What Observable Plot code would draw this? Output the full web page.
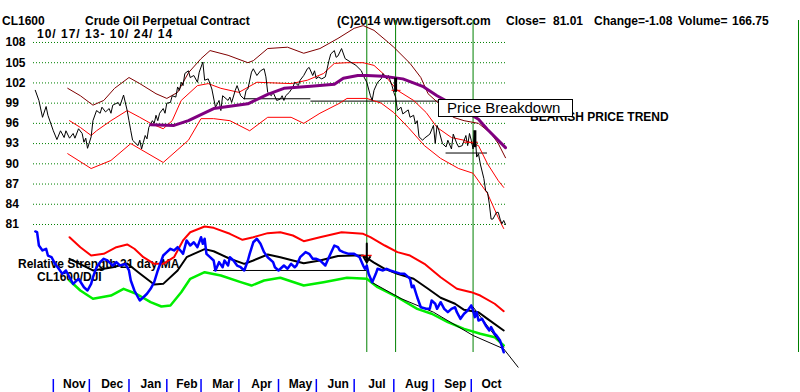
<!DOCTYPE html>
<html>
<head>
<meta charset="utf-8">
<script src="https://cdn.jsdelivr.net/npm/d3@7"></script>
<script src="https://cdn.jsdelivr.net/npm/@observablehq/plot@0.6"></script>
<style>
  html, body { margin: 0; padding: 0; background: #fff; }
  #wrap { position: relative; width: 800px; height: 392px; overflow: hidden; font-family: "Liberation Sans", Arial, sans-serif; }
  .t { position: absolute; font-size: 12px; line-height: 12px; font-weight: bold; color: #000; white-space: pre; }
  .layer { position: absolute; left: 0; top: 0; }
  #box { position: absolute; left: 438px; top: 99px; width: 135px; height: 18px; box-sizing: border-box; border: 1px solid #000; background: #fff;
         font-size: 15px; line-height: 15px; padding-left: 8px; white-space: pre; }
  #rb { position: absolute; left: 798px; top: 20px; width: 1px; height: 332px; background: #008000; }
</style>
</head>
<body>
<div id="wrap">
  <div class="t" style="left:2px;top:15px">CL1600</div>
  <div class="t" style="left:85px;top:15px">Crude Oil Perpetual Contract</div>
  <div class="t" style="left:337px;top:15px">(C)2014 www.tigersoft.com</div>
  <div class="t" style="left:506px;top:15px">Close=</div>
  <div class="t" style="left:553px;top:15px">81.01</div>
  <div class="t" style="left:594px;top:15px">Change=-1.08</div>
  <div class="t" style="left:678px;top:15px">Volume=</div>
  <div class="t" style="left:732px;top:15px">166.75</div>
  <div class="t" style="left:37px;top:28px;letter-spacing:1px">10/ 17/ 13- 10/ 24/ 14</div>
  <div class="t" style="left:530px;top:111px">BEARISH PRICE TREND</div>
  <div class="t" style="left:18px;top:258px">Relative Strength 21 day MA</div>
  <div class="t" style="left:37px;top:271px">CL1600/DJI</div>
  <div id="pricePlot" class="layer"></div>
  <div id="rsPlot" class="layer"></div>
  <div id="box">Price Breakdown</div>
  <div id="rb"></div>
</div>
<script>
// ---------- data (x = trading day since 10/17/13) ----------
const priceTicks = [108, 105, 102, 99, 96, 93, 90, 87, 84, 81];
const monthNames = ["Nov","Dec","Jan","Feb","Mar","Apr","May","Jun","Jul","Aug","Sep","Oct"];
const monthStartDay = [10, 30, 52, 73, 92, 113, 135, 156, 177, 199, 221, 242];
const lastDay = 261;
const signalDays = [184, 200, 243];

const closePrice = [[0,100.9],[2,99.4],[4,96.9],[6,98.5],[7,97.2],[10,94.9],[12,93.6],[14,94.9],[16,93.9],[17,94.9],[19,93.8],[21,94.5],[22,93.8],[24,95.2],[26,94.5],[27,93.2],[28,93.8],[29,92.3],[31,94.0],[32,96.4],[34,97.9],[36,97.5],[37,98.4],[39,97.7],[41,98.2],[42,97.5],[43,98.7],[46,99.1],[47,98.6],[49,100.2],[51,97.9],[52,96.4],[53,94.9],[54,93.5],[57,92.7],[58,93.5],[59,92.2],[60,93.2],[61,94.2],[62,93.7],[63,95.4],[65,96.4],[66,96.0],[67,97.2],[68,96.4],[69,97.5],[71,98.2],[72,97.5],[73,99.0],[75,99.1],[76,100.1],[78,99.9],[79,101.4],[80,100.9],[81,102.1],[82,101.6],[83,103.4],[85,103.8],[86,102.8],[88,103.1],[90,102.1],[91,103.6],[93,105.1],[94,102.4],[96,102.6],[98,101.1],[100,98.4],[102,99.4],[103,97.9],[104,100.1],[107,99.4],[108,99.9],[109,99.1],[111,100.9],[112,101.6],[114,100.1],[116,99.6],[117,100.9],[118,101.1],[120,103.6],[121,104.1],[123,103.1],[125,103.8],[127,104.1],[128,102.9],[129,100.6],[131,100.1],[132,100.6],[134,99.4],[136,99.6],[137,100.1],[138,99.4],[139,100.1],[141,100.6],[143,101.4],[144,102.1],[146,101.6],[147,102.4],[149,103.1],[151,104.1],[152,104.3],[154,103.1],[155,103.8],[156,102.6],[157,102.9],[159,102.6],[161,102.9],[162,104.1],[163,105.3],[164,106.3],[166,106.8],[167,105.8],[168,106.0],[170,107.1],[172,105.6],[175,105.1],[178,104.6],[181,103.8],[182,103.1],[184,102.1],[186,100.1],[187,99.4],[188,100.9],[190,102.1],[192,102.6],[193,103.4],[195,102.6],[196,103.1],[198,101.6],[199,100.6],[200,99.9],[201,97.9],[203,98.4],[204,97.4],[207,98.0],[208,96.9],[210,97.2],[211,95.9],[212,96.4],[213,94.0],[215,93.5],[216,93.8],[218,94.2],[219,94.4],[221,95.7],[222,93.0],[223,95.7],[224,95.0],[226,93.0],[228,92.5],[229,93.5],[231,92.2],[232,94.4],[234,93.0],[235,92.5],[237,92.7],[239,94.2],[240,92.7],[241,94.5],[242,93.5],[243,92.2],[244,94.9],[245,91.0],[246,91.5],[247,90.0],[249,87.8],[250,86.0],[251,85.8],[252,84.1],[253,81.8],[254,81.8],[256,82.8],[257,82.8],[258,81.8],[259,81.1],[260,81.6],[261,81.0]];

const upperBand = [[18,101.2],[25,100.1],[32,98.7],[38,99.4],[44,101.2],[52,102.8],[58,101.9],[67,100.4],[73,99.7],[79,100.6],[85,103.5],[92,105.6],[97,106.8],[107,106.1],[118,105.0],[121,105.3],[129,107.1],[140,107.3],[149,106.4],[158,107.1],[168,108.6],[177,110.1],[182,110.5],[188,109.8],[196,108.0],[199,107.3],[208,104.9],[214,102.8],[218,100.4],[225,98.7],[232,96.9],[238,96.4],[246,96.0],[253,94.5],[257,93.0],[261,90.9]];
const lowerBand = [[18,91.5],[31,89.3],[42,90.5],[53,93.0],[71,90.2],[85,93.5],[92,96.7],[99,96.7],[108,96.4],[119,94.9],[129,96.9],[142,96.9],[149,96.0],[158,97.5],[169,99.0],[173,99.7],[184,99.7],[192,99.0],[199,97.6],[207,95.4],[216,92.7],[225,90.8],[235,89.3],[243,88.6],[251,85.6],[257,82.0],[260,80.4]];
const ma21 = [[19,96.4],[25,95.4],[31,94.2],[34,94.9],[42,96.4],[51,97.9],[58,96.9],[64,96.0],[71,95.2],[76,96.4],[81,99.4],[90,101.6],[96,101.9],[103,101.2],[113,100.6],[123,102.1],[142,101.9],[151,102.4],[160,103.4],[166,104.9],[173,105.0],[182,105.0],[188,104.6],[193,103.4],[201,100.9],[210,99.4],[217,97.6],[223,95.4],[231,93.9],[238,93.5],[246,92.7],[251,90.0],[257,87.5],[260,86.5]];
const ma65 = [[64,95.8],[77,95.7],[85,96.4],[99,98.2],[118,98.9],[129,100.3],[138,101.2],[153,101.5],[166,101.8],[171,102.7],[179,103.1],[184,103.1],[193,103.0],[204,102.6],[215,101.5],[223,100.1],[236,98.2],[246,96.6],[251,95.1],[261,92.4]];
const supportLines = [{from:116, to:153, level:99.65}, {from:153, to:225, level:99.3}, {from:228, to:251, level:91.6}];
const signalBars = [{day:200, low:100.6, high:102.7}, {day:244, low:92.4, high:94.9}];
const signalMarks = [{from:198, to:203, level:100.9}, {from:238, to:246, level:93.2}];

// relative strength panel (arbitrary RS units)
const rsLine = [[0,93.1],[1,92.5],[2,82.3],[4,78.5],[6,79.8],[7,74.6],[9,73.3],[11,68.2],[13,64.4],[15,60.5],[17,63.1],[19,57.9],[21,52.8],[24,56.7],[27,50.2],[29,47.7],[31,52.8],[32,57.9],[34,65.6],[36,69.5],[38,72.1],[40,70.8],[42,68.2],[43,66.9],[45,69.5],[47,66.9],[50,68.2],[52,63.1],[53,55.4],[55,47.7],[57,42.5],[58,40.0],[60,42.5],[62,45.2],[64,49.0],[66,54.1],[68,63.1],[70,70.8],[71,74.6],[73,77.2],[75,79.8],[77,78.5],[79,81.0],[81,77.7],[82,75.9],[84,86.2],[86,82.3],[88,84.8],[90,81.0],[92,88.7],[93,83.6],[94,87.5],[95,75.9],[97,73.3],[99,70.8],[100,63.1],[102,69.5],[104,65.6],[105,70.8],[107,66.9],[108,73.3],[110,70.8],[112,66.9],[114,65.6],[116,63.1],[118,70.8],[119,75.9],[121,84.8],[123,87.5],[125,83.6],[127,77.2],[129,73.3],[132,69.5],[133,65.6],[135,63.1],[138,66.9],[140,64.4],[142,68.2],[144,65.6],[145,66.9],[147,73.3],[150,77.2],[152,75.9],[154,72.1],[156,72.1],[158,70.8],[161,66.9],[163,73.3],[166,82.3],[168,81.0],[169,78.5],[171,77.2],[174,75.9],[177,75.9],[180,73.3],[182,66.9],[183,64.4],[184,66.9],[185,60.5],[187,54.1],[189,60.5],[190,64.4],[193,63.1],[195,64.4],[197,63.1],[200,61.8],[203,60.5],[205,60.5],[208,56.7],[209,50.2],[210,51.5],[212,42.5],[214,34.8],[217,33.6],[219,33.6],[220,40.0],[222,37.5],[223,33.6],[225,38.7],[227,33.6],[229,31.0],[231,33.6],[233,34.8],[234,31.0],[236,25.9],[238,29.8],[240,32.3],[242,36.2],[243,32.3],[244,27.2],[245,31.0],[246,24.6],[248,25.9],[250,20.8],[252,16.9],[253,19.5],[255,14.4],[256,13.1],[258,9.2],[260,0.2]];
const rsMA = [[19,72.1],[32,63.1],[43,65.6],[51,68.5],[58,60.8],[66,52.3],[71,52.8],[79,63.1],[84,73.3],[88,75.9],[94,79.5],[99,77.9],[108,72.1],[116,68.2],[121,70.8],[129,75.4],[136,73.3],[143,70.8],[149,68.7],[158,70.8],[168,74.2],[177,74.6],[182,74.6],[188,69.2],[194,64.4],[201,60.5],[210,56.7],[218,49.0],[225,42.1],[233,37.5],[238,32.8],[246,31.0],[251,25.9],[260,16.9]];
const rsUpper = [[19,88.7],[25,81.0],[31,74.6],[38,75.9],[45,81.0],[51,83.1],[55,79.8],[60,73.3],[66,68.2],[71,68.2],[77,73.3],[82,86.2],[86,92.5],[94,96.9],[99,95.9],[108,91.3],[115,86.7],[121,88.7],[129,91.8],[136,92.5],[143,90.0],[149,85.6],[158,88.7],[170,92.5],[182,91.3],[186,88.7],[194,82.3],[201,77.2],[208,74.6],[216,68.2],[225,57.9],[234,49.0],[242,46.4],[247,43.8],[255,37.5],[260,31.8]];
const rsLower = [[19,55.4],[25,47.7],[32,41.3],[42,43.8],[49,49.0],[56,45.2],[64,38.7],[70,35.4],[75,36.2],[81,46.4],[86,56.7],[94,61.8],[103,59.2],[114,54.1],[120,51.5],[127,55.4],[136,57.5],[149,51.5],[160,54.1],[173,57.5],[184,56.7],[190,50.2],[201,42.5],[212,33.6],[220,29.8],[229,23.3],[238,18.2],[247,14.4],[255,11.8],[260,5.4]];
const rsSupport = [{from:99, to:184, level:63.1}];
const rsTrend = [[187,53.8],[203,41.5],[221,31.0],[243,13.1],[260,2.8],[268,-11.3]];
const rsTrendShort = [[243,35.0],[260,4.0]];
const rsArrow = [{day:184, top:83.8, bottom:69.2}];
const rsMark = [{from:181, to:187, level:74.6}];

// ---------- helpers ----------
const pts = arr => arr.map(([d, v]) => ({d, v}));
const monthLabels = monthNames.map((name, i) => ({
  name,
  pos: ((monthStartDay[i]) + (i + 1 < monthStartDay.length ? monthStartDay[i + 1] : lastDay)) / 2
}));
const font = '"Liberation Sans", Arial, sans-serif';
const common = {
  width: 800, height: 392,
  marginLeft: 33, marginRight: 295,
  style: {background: "transparent", overflow: "visible", fontFamily: font}
};

// ---------- price panel ----------
const pricePlot = Plot.plot({
  ...common,
  marginTop: 20, marginBottom: 40,
  x: {domain: [-1, 261], axis: null},
  y: {domain: [62.01, 111.26], axis: null},
  marks: [
    Plot.ruleY(priceTicks, {stroke: "#008000", strokeDasharray: "1,2"}),
    Plot.text(priceTicks, {y: d => d, text: d => String(d), frameAnchor: "left", textAnchor: "start", dx: -28,
      fontWeight: "bold", fontSize: 12, fill: "#000"}),
    Plot.ruleX(signalDays, {stroke: "#008000", strokeWidth: 1}),
    Plot.ruleY(supportLines, {y: "level", x1: "from", x2: "to", stroke: "#000"}),
    Plot.line(pts(upperBand), {x: "d", y: "v", stroke: "#800000", strokeWidth: 1}),
    Plot.line(pts(lowerBand), {x: "d", y: "v", stroke: "#ff0000", strokeWidth: 1}),
    Plot.line(pts(ma21), {x: "d", y: "v", stroke: "#ff0000", strokeWidth: 1}),
    Plot.line(pts(closePrice), {x: "d", y: "v", stroke: "#000", strokeWidth: 1}),
    Plot.line(pts(ma65), {x: "d", y: "v", stroke: "#800080", strokeWidth: 3}),
    Plot.ruleY(signalMarks, {y: "level", x1: "from", x2: "to", stroke: "#ff0000"}),
    Plot.ruleX(signalBars, {x: "day", y1: "low", y2: "high", stroke: "#000", strokeWidth: 3})
  ]
});
document.getElementById("pricePlot").append(pricePlot);

// ---------- relative strength panel + month axis ----------
const rsPlot = Plot.plot({
  ...common,
  marginTop: 222, marginBottom: 13,
  x: {domain: [-1, 261]},
  y: {domain: [-20.77, 100], axis: null},
  marks: [
    Plot.axisX({ticks: monthStartDay, tickSize: 13, tickFormat: () => "", stroke: "#0000ff", strokeWidth: 1.5}),
    Plot.text(monthLabels, {x: "pos", text: "name", frameAnchor: "bottom", lineAnchor: "top", dy: 0, dx: 3,
      fontWeight: "bold", fontSize: 12, fill: "#000"}),
    Plot.ruleY(rsSupport, {y: "level", x1: "from", x2: "to", stroke: "#000"}),
    Plot.line(pts(rsUpper), {x: "d", y: "v", stroke: "#ff0000", strokeWidth: 2}),
    Plot.line(pts(rsLower), {x: "d", y: "v", stroke: "#00ee00", strokeWidth: 2.5}),
    Plot.line(pts(rsTrend), {x: "d", y: "v", stroke: "#000", strokeWidth: 1}),
    Plot.line(pts(rsTrendShort), {x: "d", y: "v", stroke: "#000", strokeWidth: 1}),
    Plot.line(pts(rsMA), {x: "d", y: "v", stroke: "#000", strokeWidth: 2}),
    Plot.line(pts(rsLine), {x: "d", y: "v", stroke: "#0000ff", strokeWidth: 2.5}),
    Plot.ruleY(rsMark, {y: "level", x1: "from", x2: "to", stroke: "#ff0000", strokeWidth: 1.5}),
    Plot.arrow(rsArrow, {x1: "day", x2: "day", y1: "top", y2: "bottom", stroke: "#000", strokeWidth: 2, headLength: 6})
  ]
});
document.getElementById("rsPlot").append(rsPlot);
</script>
</body>
</html>
